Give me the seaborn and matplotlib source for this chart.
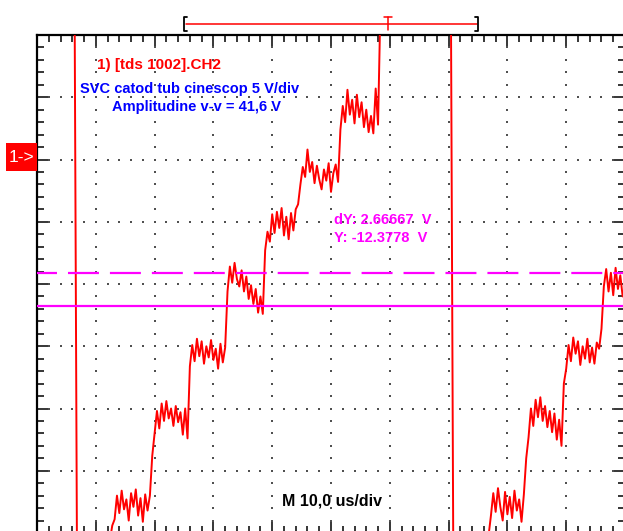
import numpy as np
import pandas as pd
import matplotlib
matplotlib.use("Agg")
import matplotlib.pyplot as plt
import seaborn as sns
from matplotlib.patches import Rectangle
from matplotlib.ticker import MultipleLocator

# CH2 record, one sample every 0.4 us (volts, 0 V = "1->" marker)
sample_us = 0.4
before_flyback_1 = [11.6, 12.3, 11.4, 12.5, 11.8, 12.2, 11.5, 12.4, 11.7, 12.6, 11.9, 12.1,
                    11.5, 12.4, 11.8, 12.0, 12.0]
below_screen_1 = [-32.0, -32.2, -31.8, -32.1, -31.9, -32.3, -31.7, -32.0, -31.8, -32.2,
                  -31.6, -31.9, -31.4, -31.0, -30.6, -29.4]
step1_a = [-28.9, -27.0, -28.4, -26.6, -28.1, -27.3, -29.0, -26.8, -27.9, -26.5, -28.6,
           -27.2, -29.1, -26.9, -28.2, -27.0]
step2_a = [-23.8, -22.0, -20.2, -21.6, -19.6, -21.0, -19.4, -20.8, -20.0, -21.4, -19.8,
           -21.1, -20.3, -22.1, -20.0, -22.4]
step3_a = [-16.6, -14.9, -16.2, -14.4, -15.8, -14.6, -16.4, -15.0, -15.9, -14.5, -16.1,
           -15.2, -16.8, -14.8, -16.3, -15.1]
step4_a = [-10.6, -8.6, -9.9, -8.3, -9.6, -10.2, -8.9, -10.6, -9.4, -11.2, -10.1, -11.6,
           -10.4, -12.3, -11.0, -12.4]
step5_a = [-7.3, -5.8, -6.6, -4.4, -5.9, -4.2, -5.5, -3.9, -6.1, -4.6, -6.4, -4.3, -5.7,
           -4.0, -3.6]
step6_a = [-2.0, -0.6, -1.4, 0.8, -1.0, -0.2, -1.9, -0.5, -1.6, -2.4, -0.8, -1.7, -0.3,
           -2.6, -1.1, -0.4, -1.8]
step7_a = [2.4, 4.3, 3.0, 5.6, 3.6, 4.8, 2.9, 5.2, 3.4, 4.6, 2.6, 4.0, 2.2, 3.5, 2.1, 5.7, 2.8]
off_top = [12.2, 11.6, 12.4, 11.9, 12.6, 11.7, 12.3, 12.0, 11.5, 12.5, 11.8, 12.2, 11.6,
           12.4, 11.9, 12.1, 11.7, 12.5, 11.8, 12.3, 11.6, 12.2, 11.9, 12.4, 11.7, 12.1,
           11.8, 12.3, 11.9, 12.2, 12.0]
below_screen_2 = [-32.0, -32.1, -31.8, -32.3, -31.9, -32.0, -31.7, -32.2, -31.8, -32.0,
                  -31.6, -31.9, -31.5, -31.2, -31.0, -30.2]
step1_b = [-28.6, -26.8, -28.3, -26.4, -27.9, -29.0, -26.7, -28.5, -27.1, -28.8, -26.6,
           -28.2, -27.3, -29.1, -26.9]
step2_b = [-24.0, -22.3, -20.0, -21.4, -19.3, -20.7, -19.1, -21.0, -19.8, -21.5, -20.2,
           -21.9, -20.4, -22.5, -20.9, -23.0]
step3_b = [-18.0, -16.8, -14.9, -16.2, -14.3, -15.6, -14.6, -16.5, -15.0, -16.0, -14.4,
           -16.3, -15.1, -16.4, -14.7, -15.2, -13.6]
step4_b = [-10.2, -8.8, -10.6, -9.1, -10.9, -8.7, -10.4, -9.3, -11.0]

# cursors (V)
cursor_dashed_v = -9.1
cursor_solid_v = -11.77

volts = np.concatenate([before_flyback_1, below_screen_1, step1_a, step2_a, step3_a, step4_a,
                        step5_a, step6_a, step7_a, off_top, below_screen_2, step1_b,
                        step2_b, step3_b, step4_b])
df = pd.DataFrame({"t": np.arange(len(volts)) * sample_us, "v": volts})

sns.set_style("white")
plt.rcParams["font.family"] = ["Liberation Sans", "DejaVu Sans"]
plt.rcParams["lines.scale_dashes"] = False

W, H = 623, 531
fig = plt.figure(figsize=(W / 100, H / 100), dpi=100)
ax = fig.add_axes([37 / W, -2 / H, 588 / W, 498 / H])
ax.set_xlim(0, 100)
ax.set_ylim(-30, 10)

# graticule dots
gx = np.arange(0, 100.01, 2)
gy = np.arange(-30, 10.01, 1)
cols = np.arange(10, 91, 10)
rows = np.arange(-25, 6, 5)
dx = np.concatenate([np.repeat(cols, len(gy)), np.tile(gx, len(rows))])
dy = np.concatenate([np.tile(gy, len(cols)), np.repeat(rows, len(gx))])
ax.scatter(dx, dy, s=1.8, marker="s", color="#505050", linewidths=0, zorder=1)

sns.lineplot(data=df, x="t", y="v", ax=ax, color="#ff0000", linewidth=1.4,
             estimator=None, sort=False, zorder=3)

ax.axhline(cursor_dashed_v, color="#ff00ff", lw=1.6, linestyle=(7.9, (22.3, 7.9)), zorder=4)
ax.axhline(cursor_solid_v, color="#ff00ff", lw=1.6, zorder=4)

ax.xaxis.set_major_locator(MultipleLocator(10))
ax.xaxis.set_minor_locator(MultipleLocator(2))
ax.yaxis.set_major_locator(MultipleLocator(5))
ax.yaxis.set_minor_locator(MultipleLocator(1))
ax.tick_params(which="both", direction="in", top=True, right=True, bottom=True, left=True,
               labelbottom=False, labelleft=False, colors="black")
ax.tick_params(which="major", length=9.4, width=1.1)
ax.tick_params(which="minor", length=5, width=1.1)
ax.set_xlabel("")
ax.set_ylabel("")
for s in ax.spines.values():
    s.set_color("black")
    s.set_linewidth(1.6)

# overlay in pixel coordinates for screen annotations
ov = fig.add_axes([0, 0, 1, 1])
ov.set_xlim(0, W)
ov.set_ylim(H, 0)
ov.axis("off")

# trigger / record bar
ov.plot([186, 477], [24, 24], color="#ff0000", lw=1.1)
ov.plot([187, 184, 184, 187], [17, 17, 31, 31], color="black", lw=1.3)
ov.plot([475, 478, 478, 475], [17, 17, 31, 31], color="black", lw=1.3)
ov.plot([384, 392], [17, 17], color="#ff0000", lw=1.1)
ov.plot([388, 388], [17, 30], color="#ff0000", lw=1.1)

# channel marker
ov.add_patch(Rectangle((6, 143), 31, 28, facecolor="#ff0000", edgecolor="none"))
ov.text(21, 162, "1->", color="white", fontsize=12.5, ha="center", va="baseline")

bold = dict(fontweight="bold", ha="left", va="baseline")
ov.text(97, 69.5, "1) [tds 1002].CH2", color="#ff0000", fontsize=11, **bold)
ov.text(80, 92.5, "SVC catod tub cinescop 5 V/div", color="#0000ff", fontsize=10.5, **bold)
ov.text(112, 111, "Amplitudine v-v = 41,6 V", color="#0000ff", fontsize=10.5, **bold)
ov.text(334, 224, "dY: 2.66667  V", color="#ff00ff", fontsize=10.5, **bold)
ov.text(334, 242.5, "Y: -12.3778  V", color="#ff00ff", fontsize=10.5, **bold)
ov.text(282, 506, "M 10,0 us/div", color="black", fontsize=11.5, **bold)

fig.savefig("out.png", dpi=100)
